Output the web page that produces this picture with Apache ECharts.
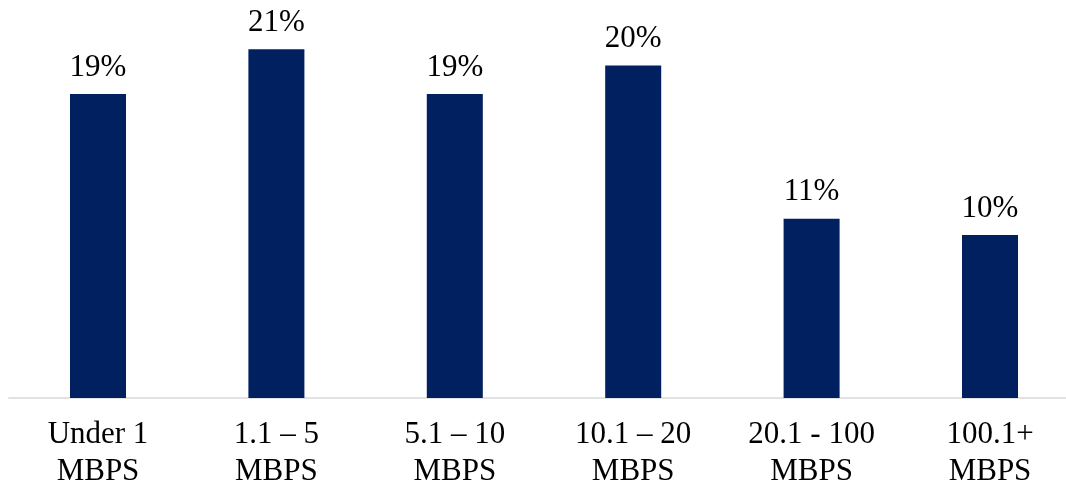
<!DOCTYPE html>
<html>
<head>
<meta charset="utf-8">
<script src="https://cdn.jsdelivr.net/npm/echarts@6/dist/echarts.min.js"></script>
<style>html,body{margin:0;padding:0;background:#fff}#c{width:1066px;height:487px}</style>
</head>
<body>
<div id="c"></div>
<script>
var categories = ['Under 1\nMBPS', '1.1 \u2013 5\nMBPS', '5.1 \u2013 10\nMBPS', '10.1 \u2013 20\nMBPS', '20.1 - 100\nMBPS', '100.1+\nMBPS'];
var values = [18.65, 21.4, 18.65, 20.4, 11.0, 10.0];

var chart = echarts.init(document.getElementById('c'), null, {renderer: 'canvas'});
var font = '"Liberation Serif", "Times New Roman", serif';
chart.setOption({
  animation: false,
  grid: {left: 8.8, width: 1070.4, top: 6.8, bottom: 89, containLabel: false, outerBoundsMode: 'none'},
  xAxis: {
    type: 'category',
    data: categories,
    axisLine: {lineStyle: {color: '#d9d9d9', width: 1.5}},
    axisTick: {show: false},
    axisLabel: {fontFamily: font, fontSize: 31, color: '#000', lineHeight: 37, margin: 18, interval: 0}
  },
  yAxis: {
    type: 'value', min: 0, max: 24,
    show: false,
    splitLine: {show: false}
  },
  series: [{
    type: 'bar',
    data: values,
    barWidth: '31.4%',
    itemStyle: {color: '#002060'},
    label: {
      show: true, position: 'top', distance: 11,
      fontFamily: font, fontSize: 31, color: '#000',
      formatter: function (p) { return Math.round(p.value) + '%'; }
    }
  }]
});
</script>
</body>
</html>
